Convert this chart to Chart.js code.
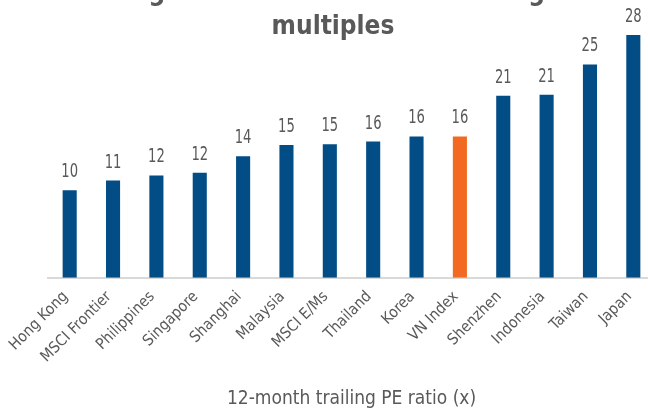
<!DOCTYPE html>
<html><head><meta charset="utf-8">
<script src="https://cdn.jsdelivr.net/npm/chart.js@4.4.0/dist/chart.umd.min.js"></script>
<style>
html,body{margin:0;padding:0;background:#fff;}
#wrap{position:relative;width:648px;height:414px;overflow:hidden;background:#fff;}
#c{position:absolute;left:0;top:0;}
#title{position:absolute;left:0;width:666px;top:-26px;text-align:center;font:bold 26px 'DejaVu Sans Condensed','DejaVu Sans',sans-serif;line-height:34px;color:#595959;}
</style></head><body>
<div id="wrap"><canvas id="c" width="666" height="414"></canvas><div id="title">High valuation vs. Asian trading<br>multiples</div></div>
<script>
const categories = ['Hong Kong','MSCI Frontier','Philippines','Singapore','Shanghai','Malaysia','MSCI E/Ms','Thailand','Korea','VN Index','Shenzhen','Indonesia','Taiwan','Japan'];
const peValues = [10.1, 11.2, 11.8, 12.1, 14.0, 15.3, 15.4, 15.7, 16.3, 16.3, 21.0, 21.1, 24.6, 28.0];
const highlightCategory = 'VN Index';
const axisTitle = '12-month trailing PE ratio (x)';

const BLUE = '#034d86', ORANGE = '#f26a21', GREY = '#595959';
const FAM = "'DejaVu Sans Condensed','DejaVu Sans',sans-serif";

const labelPlugin = {
  id: 'barLabels',
  afterDatasetsDraw(chart) {
    const ctx = chart.ctx;
    const meta = chart.getDatasetMeta(0);
    ctx.save();
    ctx.font = '19px ' + FAM;
    ctx.fillStyle = GREY;
    ctx.textAlign = 'center';
    ctx.textBaseline = 'alphabetic';
    meta.data.forEach((bar, i) => {
      ctx.save();
      ctx.translate(bar.x, bar.y - 13);
      ctx.scale(0.77, 1);
      ctx.fillText(String(Math.round(peValues[i])), 0, 0);
      ctx.restore();
    });
    ctx.restore();
  }
};

new Chart(document.getElementById('c'), {
  type: 'bar',
  data: {
    labels: categories,
    datasets: [{
      data: peValues,
      backgroundColor: categories.map(c => c === highlightCategory ? ORANGE : BLUE),
      borderWidth: 0,
      categoryPercentage: 1,
      barPercentage: 0.325
    }]
  },
  options: {
    responsive: false,
    maintainAspectRatio: false,
    devicePixelRatio: 1,
    animation: false,
    layout: { padding: { top: 9, left: 48, right: 11, bottom: 4 } },
    plugins: { legend: { display: false }, tooltip: { enabled: false }, title: { display: false } },
    scales: {
      x: {
        grid: { display: false },
        border: { display: true, color: '#d9d9d9', width: 2 },
        ticks: { color: GREY, font: { family: FAM, size: 15.5 }, minRotation: 45, maxRotation: 45, padding: 2, labelOffset: -4, autoSkip: false },
        title: { display: true, text: axisTitle, color: GREY, font: { family: FAM, size: 19 }, padding: { top: 19, bottom: 0 } }
      },
      y: { display: false, min: 0, max: 31 }
    }
  },
  plugins: [labelPlugin]
});
</script>
</body></html>
